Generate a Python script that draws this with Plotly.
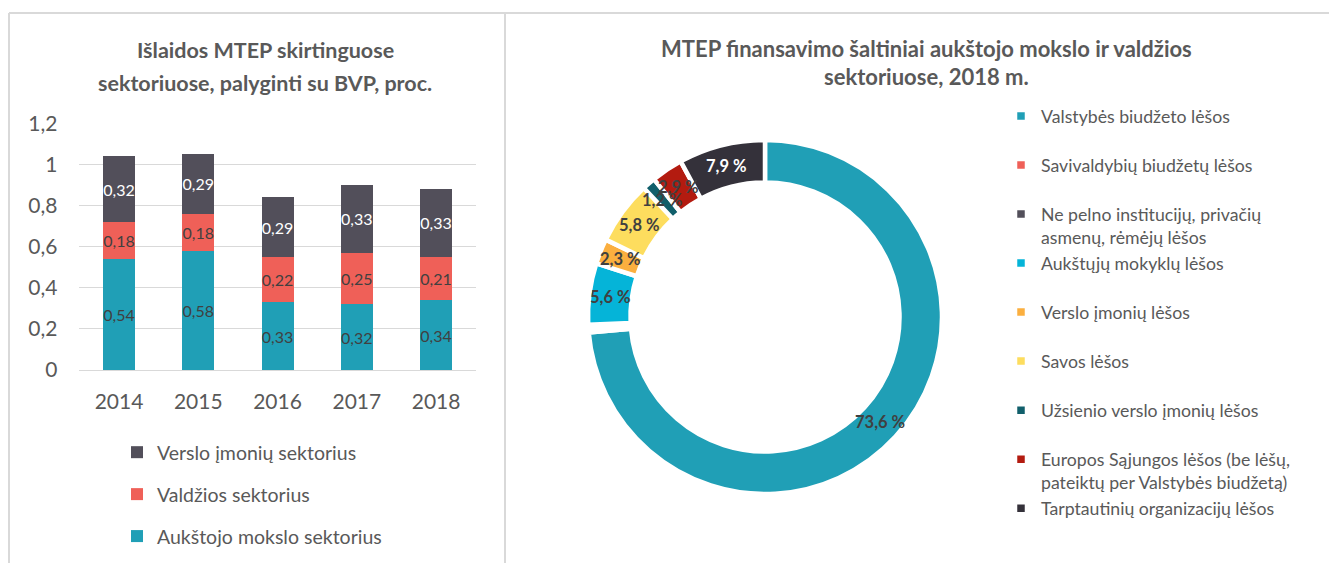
import math
import plotly.graph_objects as go

# ---------------- data ----------------
years = ["2014", "2015", "2016", "2017", "2018"]
aukstojo = [0.54, 0.58, 0.33, 0.32, 0.34]
valdzios = [0.18, 0.18, 0.22, 0.25, 0.21]
verslo = [0.32, 0.29, 0.29, 0.33, 0.33]

bar_names = ["Aukštojo mokslo sektorius", "Valdžios sektorius", "Verslo įmonių sektorius"]
bar_colors = ["#209FB6", "#EF6058", "#524F5A"]
bar_text_colors = ["#404040", "#404040", "#FFFFFF"]
bar_legend_rank = [3, 2, 1]

src_labels = [
    "Valstybės biudžeto lėšos",
    "Savivaldybių biudžetų lėšos",
    "Ne pelno institucijų, privačių<br>asmenų, rėmėjų lėšos",
    "Aukštųjų mokyklų lėšos",
    "Verslo įmonių lėšos",
    "Savos lėšos",
    "Užsienio verslo įmonių lėšos",
    "Europos Sąjungos lėšos (be lėšų,<br>pateiktų per Valstybės biudžetą)",
    "Tarptautinių organizacijų lėšos",
]
src_values = [73.6, 0.4, 0.3, 5.6, 2.3, 5.8, 1.2, 2.9, 7.9]
src_colors = ["#209FB6", "#EF6058", "#524F5A", "#05B4D8", "#FBAF3F",
              "#FDDD5E", "#115F6B", "#B31B10", "#34313A"]
src_text_colors = ["#404040", "#404040", "#404040", "#404040", "#404040",
                   "#404040", "#404040", "#404040", "#FFFFFF"]
src_show_text = [True, False, False, True, True, True, True, True, True]

FONT = "Lato"
GREY = "#595959"
W, H = 1337, 563
OX, OY = 8, 8  # page offset of the figure (browser body margin)
HOLE = 0.76


def px(x):
    return (x - OX) / W


def py(y):
    return 1 - (y - OY) / H


fig = go.Figure()

for name, vals, col, tcol, rank in zip(bar_names, [aukstojo, valdzios, verslo],
                                       bar_colors, bar_text_colors, bar_legend_rank):
    fig.add_trace(go.Bar(
        x=years, y=vals, name=name,
        marker=dict(color=col, line=dict(width=0)),
        text=[f"{v:.2f}".replace(".", ",") for v in vals],
        textposition="inside", insidetextanchor="middle", textangle=0,
        constraintext="none",
        textfont=dict(family=FONT, size=16, color=tcol),
        legendgroup=name, legendrank=rank, legend="legend",
        hoverinfo="skip",
    ))

legend_labels = [l if "<br>" in l else l + "<br> " for l in src_labels]
pie_dom_x = [px(588), px(942)]
pie_dom_y = [py(494), py(140)]

fig.add_trace(go.Pie(
    labels=legend_labels, values=src_values,
    marker=dict(colors=src_colors, line=dict(color="white", width=4.5)),
    hole=HOLE, sort=False, direction="clockwise", rotation=0,
    textinfo="none",
    domain=dict(x=pie_dom_x, y=pie_dom_y),
    legend="legend2", hoverinfo="skip",
))

annotations = []

# slice labels at the mid-angle of each slice, in the middle of the ring
total = sum(src_values)
cum = 0.0
r_mid = (1 + HOLE) / 2
for v, s, c in zip(src_values, src_show_text, src_text_colors):
    mid = (cum + v / 2) / total * 2 * math.pi
    cum += v
    if not s:
        continue
    annotations.append(dict(
        x=r_mid * math.sin(mid), y=r_mid * math.cos(mid), xref="x2", yref="y2",
        text=f"<b>{v:.1f} %</b>".replace(".", ","), showarrow=False,
        xanchor="center", yanchor="middle",
        font=dict(family=FONT, size=16.5, color=c),
    ))

shapes = [
    dict(type="line", xref="paper", yref="paper", x0=px(9), x1=1, y0=py(13), y1=py(13),
         line=dict(color="#D9D9D9", width=2)),
    dict(type="line", xref="paper", yref="paper", x0=px(9), x1=px(9), y0=py(13), y1=0,
         line=dict(color="#D9D9D9", width=2)),
    dict(type="line", xref="paper", yref="paper", x0=px(505), x1=px(505), y0=py(13), y1=0,
         line=dict(color="#D9D9D9", width=2)),
]

title_font = dict(family=FONT, size=21.5, color=GREY)
for txt, x, y, fs in [
    ("Išlaidos MTEP skirtinguose", 265, 50, 21.5),
    ("sektoriuose, palyginti su BVP, proc.", 265, 83, 21.5),
    ("MTEP finansavimo šaltiniai aukštojo mokslo ir valdžios", 927, 48, 22),
    ("sektoriuose, 2018 m.", 927, 76, 22),
]:
    annotations.append(dict(text=f"<b>{txt}</b>", x=px(x), y=py(y), xref="paper", yref="paper",
                            showarrow=False, xanchor="center", yanchor="middle",
                            font=dict(family=FONT, size=fs, color=GREY)))

fig.update_layout(
    width=W, height=H,
    margin=dict(l=0, r=0, t=0, b=0, autoexpand=False),
    paper_bgcolor="white", plot_bgcolor="white",
    separators=", ",
    barmode="stack", bargap=0.596,
    font=dict(family=FONT, color=GREY),
    xaxis=dict(domain=[px(79.4), px(475.7)], showgrid=False, showline=False,
               ticks="", ticklabelstandoff=17, automargin=False,
               tickfont=dict(family=FONT, size=21, color=GREY)),
    yaxis=dict(domain=[py(370), py(123.2)], range=[0, 1.2], dtick=0.2,
               showgrid=True, gridcolor="#D9D9D9", gridwidth=1,
               zeroline=True, zerolinecolor="#D9D9D9", zerolinewidth=1,
               showline=False, ticks="", tickformat="~r", ticklabelstandoff=21,
               automargin=False,
               tickfont=dict(family=FONT, size=21, color=GREY)),
    xaxis2=dict(domain=pie_dom_x, range=[-1, 1], visible=False, fixedrange=True),
    yaxis2=dict(domain=pie_dom_y, range=[-1, 1], visible=False, fixedrange=True),
    legend=dict(x=px(117), y=py(433), xanchor="left", yanchor="top",
                traceorder="grouped", tracegroupgap=13.6,
                font=dict(family=FONT, size=19.5, color=GREY),
                itemclick=False, itemdoubleclick=False, bgcolor="rgba(0,0,0,0)"),
    legend2=dict(x=px(1001), y=py(98), xanchor="left", yanchor="top",
                 valign="top", tracegroupgap=0,
                 font=dict(family=FONT, size=17.7, color=GREY),
                 itemclick=False, itemdoubleclick=False, bgcolor="rgba(0,0,0,0)"),
    shapes=shapes, annotations=annotations,
    showlegend=True,
)

fig.write_html("out.html")
